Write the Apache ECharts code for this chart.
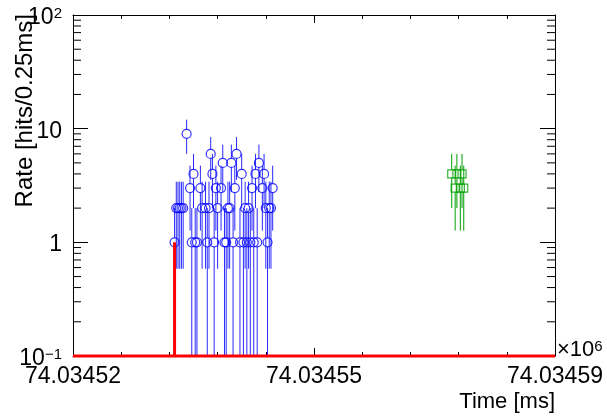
<!DOCTYPE html>
<html><head><meta charset="utf-8">
<script src="https://cdn.jsdelivr.net/npm/echarts@6/dist/echarts.min.js"></script>
<style>html,body{margin:0;padding:0;background:#fff}#c{width:607px;height:419px}</style>
</head><body><div id="c"></div>
<script>
// ---- data ----
const xMin = 74034520, xMax = 74034590, xStep = 35;
const xTickLabels = ['74.03452', '74.03455', '74.03459'];
const yMin = 0.1, yMax = 100;
const blueTimes = [74034534.75,74034535.0,74034535.25,74034535.5,74034535.75,74034536.0,74034536.5,74034537.0,74034537.25,74034537.5,74034537.75,74034538.0,74034538.5,74034538.75,74034539.25,74034539.5,74034539.75,74034540.0,74034540.25,74034540.5,74034540.75,74034541.0,74034541.5,74034541.75,74034542.0,74034542.25,74034542.5,74034542.75,74034543.0,74034543.25,74034543.5,74034543.75,74034544.25,74034544.5,74034544.75,74034545.0,74034545.25,74034545.5,74034545.75,74034546.0,74034546.25,74034546.5,74034546.75,74034547.0,74034547.5,74034547.75,74034548.0,74034548.25,74034548.5,74034548.75,74034549.0];
const blueCounts = [1,2,2,2,2,2,9,3,1,4,1,1,3,2,2,1,2,6,4,1,3,2,3,5,1,1,2,2,5,1,3,6,1,4,1,2,1,2,1,3,1,4,1,5,3,4,2,1,2,2,3];
const greenTimes = [74034575.0,74034575.5,74034575.75,74034576.25,74034576.5,74034576.75];
const greenCounts = [4,3,4,3,4,3];
const redTimes = [74034534.75];
const redCounts = [1];

const FONT = 'Liberation Sans, Arial, Helvetica, sans-serif';
const pair = (ts, cs) => ts.map((t, i) => [t, cs[i]]);

// red histogram: empty bins lie on the axis floor, filled bins rise as a spike
function redLine() {
  const pts = [[xMin, yMin]];
  redTimes.forEach((t, i) => { pts.push([t, yMin], [t, redCounts[i]], [t, yMin]); });
  pts.push([xMax, yMin]);
  return pts;
}

function errRender(r) {
  return function (params, api) {
    const t = api.value(0), v = api.value(1), e = Math.sqrt(v);
    const cs = params.coordSys;
    const c = api.coord([t, v]);
    const hi = api.coord([t, v + e]);
    const lo = (v - e) > yMin ? api.coord([t, v - e]) : [c[0], cs.y + cs.height];
    const st = { stroke: api.visual('color'), lineWidth: 1 };
    return { type: 'group', children: [
      { type: 'line', shape: { x1: c[0], y1: hi[1], x2: c[0], y2: c[1] - r }, style: st },
      { type: 'line', shape: { x1: c[0], y1: c[1] + r, x2: c[0], y2: lo[1] }, style: st }
    ]};
  };
}

const minorY = [];
for (let k = -1; k <= 1; k++) for (let m = 2; m <= 9; m++) minorY.push([xMin, m * Math.pow(10, k)]);

const chart = echarts.init(document.getElementById('c'), null, { renderer: 'canvas' });
const axisLineStyle = { show: true, lineStyle: { color: '#000', width: 1 } };
chart.setOption({
  animation: false,
  backgroundColor: '#fff',
  grid: { left: 73, right: 52, top: 15, bottom: 63 },
  xAxis: [{
    type: 'value', min: xMin, max: xMax, interval: xStep, position: 'bottom',
    axisLine: axisLineStyle,
    axisTick: { inside: true, length: 8, lineStyle: { color: '#000' } },
    minorTick: { show: true, splitNumber: 5, length: 4, lineStyle: { color: '#000' } },
    splitLine: { show: false },
    axisLabel: { margin: 9, fontSize: 23, fontFamily: FONT, color: '#000',
      formatter: v => xTickLabels[Math.round((v - xMin) / xStep)] }
  }, {
    type: 'value', min: xMin, max: xMax, interval: xStep, position: 'top',
    axisLine: axisLineStyle,
    axisTick: { inside: true, length: 8, lineStyle: { color: '#000' } },
    minorTick: { show: true, splitNumber: 5, length: 4, lineStyle: { color: '#000' } },
    splitLine: { show: false }, axisLabel: { show: false }
  }],
  yAxis: [{
    type: 'log', logBase: 10, min: yMin, max: yMax, position: 'left',
    axisLine: axisLineStyle,
    axisTick: { inside: true, length: 15, lineStyle: { color: '#000' } },
    splitLine: { show: false },
    axisLabel: { margin: 11, color: '#000', padding: [5, 0, 0, 0],
      formatter: v => { const e = Math.round(Math.log10(v));
        if (e === 0) return '{b|1}'; if (e === 1) return '{b|10}';
        return '{b|10}{s|' + (e < 0 ? '\u22121' : String(e)) + '}'; },
      rich: { b: { fontSize: 23, fontFamily: FONT, color: '#000' },
              s: { fontSize: 15, fontFamily: FONT, color: '#000', verticalAlign: 'top' } } }
  }, {
    type: 'log', logBase: 10, min: yMin, max: yMax, position: 'right',
    axisLine: axisLineStyle,
    axisTick: { inside: true, length: 15, lineStyle: { color: '#000' } },
    splitLine: { show: false }, axisLabel: { show: false }
  }],
  graphic: [
    { type: 'text', x: 25, y: 14, rotation: Math.PI / 2,
      style: { text: 'Rate [hits/0.25ms]', font: '24px ' + FONT, fill: '#000', align: 'right', verticalAlign: 'middle' } },
    { type: 'text', x: 555, y: 402,
      style: { text: 'Time [ms]', font: '22px ' + FONT, fill: '#000', align: 'right', verticalAlign: 'middle' } },
    { type: 'text', x: 557, y: 350,
      style: { text: '{a|\u00d710}{b|6}', fill: '#000', verticalAlign: 'middle',
        rich: { a: { fontSize: 22, fontFamily: FONT }, b: { fontSize: 15, fontFamily: FONT, verticalAlign: 'top' } } } }
  ],
  series: [
    { type: 'custom', name: 'minorY', data: minorY, silent: true,
      renderItem: (params, api) => {
        const cs = params.coordSys; const y = api.coord([xMin, api.value(1)])[1];
        const st = { stroke: '#000', lineWidth: 1 };
        return { type: 'group', children: [
          { type: 'line', shape: { x1: cs.x, y1: y, x2: cs.x + 8, y2: y }, style: st },
          { type: 'line', shape: { x1: cs.x + cs.width - 8, y1: y, x2: cs.x + cs.width, y2: y }, style: st } ] };
      } },
    { type: 'custom', name: 'blueErr', data: pair(blueTimes, blueCounts), itemStyle: { color: '#2a2aff' }, renderItem: errRender(4.5), z: 3 },
    { type: 'scatter', name: 'blue', data: pair(blueTimes, blueCounts), symbol: 'circle', symbolSize: 9,
      itemStyle: { color: 'rgba(0,0,0,0)', borderColor: '#0000ff', borderWidth: 1.2 }, z: 4 },
    { type: 'custom', name: 'greenErr', data: pair(greenTimes, greenCounts), itemStyle: { color: '#00a000' }, renderItem: errRender(4), z: 3 },
    { type: 'scatter', name: 'green', data: pair(greenTimes, greenCounts), symbol: 'rect', symbolSize: 8,
      itemStyle: { color: 'rgba(0,0,0,0)', borderColor: '#00a000', borderWidth: 1.2 }, z: 4 },
    { type: 'line', name: 'red', data: redLine(), showSymbol: false, clip: false,
      lineStyle: { color: '#ff0000', width: 3, join: 'bevel' }, z: 5 }
  ]
});
</script></body></html>
